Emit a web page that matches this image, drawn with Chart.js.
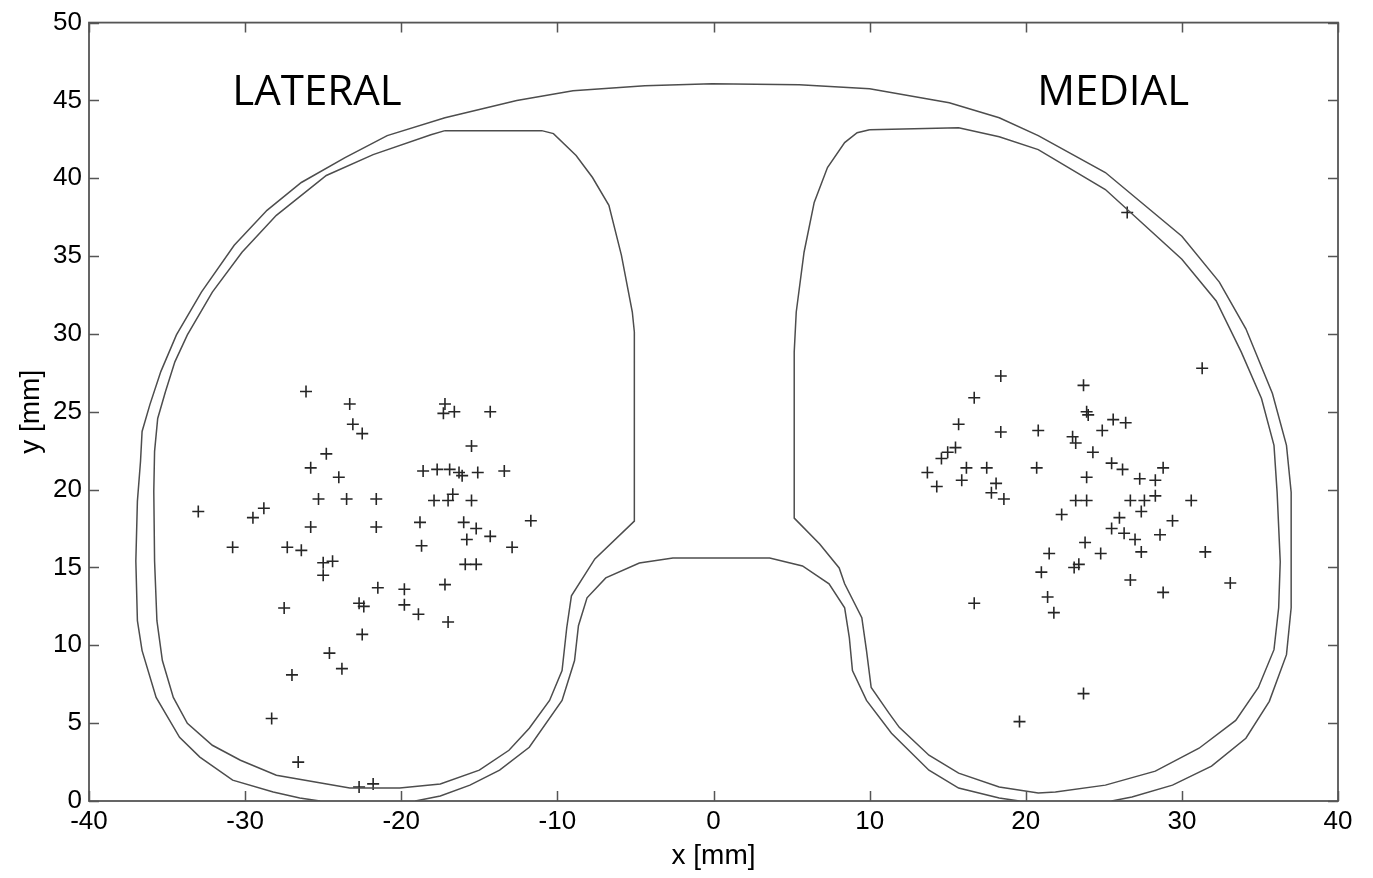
<!DOCTYPE html>
<html>
<head>
<meta charset="utf-8">
<script src="https://cdn.jsdelivr.net/npm/chart.js@4.4.1/dist/chart.umd.min.js"></script>
<style>
  html, body { margin: 0; padding: 0; background: #fff; }
  #wrap { width: 1373px; height: 878px; position: relative; }
</style>
</head>
<body>
<div id="wrap"><canvas id="c"></canvas></div>
<script>
// axis ticks
const xTicks = [-40, -30, -20, -10, 0, 10, 20, 30, 40];
const yTicks = [0, 5, 10, 15, 20, 25, 30, 35, 40, 45, 50];

// compartment labels
const regionNames = ['LATERAL', 'MEDIAL'];
const regionX = [-25.4, 25.6];
const regionY = [44.7, 44.7];

// measured points, lateral compartment
const lateralX = [-33.0, -30.8, -29.5, -28.8, -26.1, -23.3, -23.1, -22.5, -24.8, -25.8, -24.0, -25.3, -23.5, -21.6,
  -25.8, -21.6, -27.3, -26.4, -25.0, -24.4, -25.0, -27.5, -21.5, -22.7, -22.4, -19.8, -19.8, -18.9, -22.5, -24.6,
  -23.8, -27.0, -28.3, -26.6, -22.7, -21.8, -17.2, -17.3, -16.6, -14.3, -15.5, -18.6, -17.7, -16.9, -16.3, -16.1,
  -15.1, -13.4, -17.9, -17.0, -16.7, -15.5, -18.8, -16.0, -15.2, -15.8, -14.3, -11.7, -18.7, -12.9, -15.9, -15.2,
  -17.2, -17.0];
const lateralY = [18.6, 16.3, 18.2, 18.8, 26.3, 25.5, 24.2, 23.6, 22.3, 21.4, 20.8, 19.4, 19.4, 19.4,
  17.6, 17.6, 16.3, 16.1, 15.3, 15.4, 14.5, 12.4, 13.7, 12.7, 12.5, 13.6, 12.6, 12.0, 10.7, 9.5,
  8.5, 8.1, 5.3, 2.5, 0.9, 1.1, 25.5, 24.9, 25.0, 25.0, 22.8, 21.2, 21.3, 21.3, 21.1, 20.9,
  21.1, 21.2, 19.3, 19.3, 19.7, 19.3, 17.9, 17.9, 17.5, 16.8, 17.0, 18.0, 16.4, 16.3, 15.2, 15.2,
  13.9, 11.5];

// measured points, medial compartment
const medialX = [18.4, 16.7, 15.7, 18.4, 20.8, 23.0, 23.2, 15.5, 15.0, 14.6, 13.7, 14.3, 16.2, 15.9,
  17.5, 18.1, 17.8, 18.6, 20.7, 23.2, 22.3, 21.5, 21.0, 23.1, 23.4, 21.4, 21.8, 16.7, 31.3, 23.7,
  23.9, 24.0, 25.6, 26.4, 24.9, 24.3, 25.5, 26.2, 28.8, 23.9, 27.3, 28.3, 28.3, 23.9, 26.7, 27.6,
  30.6, 27.4, 26.0, 25.5, 26.3, 27.0, 29.4, 28.6, 23.8, 24.8, 27.4, 31.5, 26.7, 28.8, 33.1, 23.7,
  19.6, 26.5];
const medialY = [27.3, 25.9, 24.2, 23.7, 23.8, 23.4, 23.0, 22.7, 22.4, 22.0, 21.1, 20.2, 21.4, 20.6,
  21.4, 20.4, 19.8, 19.4, 21.4, 19.3, 18.4, 15.9, 14.7, 15.0, 15.2, 13.1, 12.1, 12.7, 27.8, 26.7,
  25.0, 24.8, 24.5, 24.3, 23.8, 22.4, 21.7, 21.3, 21.4, 20.8, 20.7, 20.6, 19.6, 19.3, 19.3, 19.3,
  19.3, 18.6, 18.2, 17.5, 17.2, 16.8, 18.0, 17.1, 16.6, 15.9, 16.0, 16.0, 14.2, 13.4, 14.0, 6.9,
  5.1, 37.8];

// outer rim of the plateau (left bottom, over the top, right bottom)
const outerX = [-25.2, -26.5, -28.2, -30.8, -32.9, -34.2, -35.7, -36.6, -36.9, -37.0, -36.9, -36.7, -36.6, -36.1,
  -35.4, -34.4, -32.8, -30.7, -28.6, -26.4, -23.6, -20.9, -17.2, -12.6, -9.0, -4.4, -0.1, 5.5, 10.0, 15.1,
  18.3, 20.8, 25.1, 30.0, 32.4, 34.1, 35.8, 36.7, 37.0, 37.0, 37.0, 36.7, 35.6, 34.1, 31.9, 29.4, 26.8, 25.5];
const outerY = [0.0, 0.19, 0.58, 1.34, 2.82, 4.09, 6.65, 9.66, 11.58, 15.42, 19.26, 21.82, 23.74, 25.46,
  27.58, 29.94, 32.69, 35.70, 37.94, 39.73, 41.33, 42.74, 43.89, 44.99, 45.62, 45.94, 46.07, 46.00, 45.75, 44.85,
  43.89, 42.74, 40.37, 36.28, 33.33, 30.33, 26.17, 22.84, 19.83, 15.36, 12.41, 9.40, 6.40, 4.03, 2.24, 1.02, 0.26, 0.0];

// outer rim around the intercondylar notch
const notchX = [-19.1, -17.5, -15.6, -13.7, -11.8, -9.7, -8.9, -8.65, -8.1, -6.9, -4.75, -2.6, 3.6, 5.7,
  7.4, 8.4, 8.7, 8.9, 9.8, 11.4, 13.8, 15.7, 18.3, 19.6];
const notchY = [0.0, 0.32, 1.02, 1.98, 3.45, 6.46, 9.02, 11.26, 13.05, 14.33, 15.29, 15.61, 15.61, 15.10,
  13.95, 12.41, 10.49, 8.38, 6.46, 4.35, 1.98, 0.83, 0.19, 0.0];

// lateral compartment rim (closed)
const latRimX = [-17.2, -11.0, -10.25, -8.8, -7.75, -6.7, -5.9, -5.2, -5.07, -5.07, -7.6, -9.1, -9.4, -9.7,
  -10.5, -11.8, -13.1, -15.0, -17.5, -20.1, -23.3, -28.0, -30.3, -32.1, -33.7, -34.6, -35.3, -35.65, -35.8, -35.85,
  -35.8, -35.6, -35.1, -34.5, -33.7, -32.1, -30.2, -28.0, -24.8, -21.8, -18.1, -17.2];
const latRimY = [43.06, 43.06, 42.87, 41.46, 40.05, 38.26, 35.06, 31.41, 30.13, 17.98, 15.55, 13.18, 11.13, 8.38,
  6.46, 4.67, 3.26, 1.98, 1.09, 0.83, 0.83, 1.66, 2.62, 3.58, 4.99, 6.65, 9.02, 11.58, 15.42, 19.90,
  22.46, 24.57, 26.30, 28.21, 29.94, 32.69, 35.25, 37.62, 40.18, 41.52, 42.80, 43.06];

// medial compartment rim (closed)
const medRimX = [10.0, 15.7, 18.3, 20.8, 25.1, 30.0, 32.2, 33.8, 35.1, 35.9, 36.1, 36.3, 36.2, 35.9,
  34.9, 33.45, 31.1, 28.3, 25.1, 21.9, 20.8, 18.3, 15.7, 13.8, 11.9, 11.25, 10.1, 9.8, 9.5, 8.4,
  8.05, 6.8, 5.17, 5.17, 5.3, 5.8, 6.45, 7.3, 8.4, 9.2, 10.0];
const medRimY = [43.12, 43.25, 42.67, 41.84, 39.28, 34.80, 32.12, 28.85, 25.85, 22.84, 19.83, 15.36, 12.41, 9.72,
  7.29, 5.18, 3.39, 1.92, 1.02, 0.58, 0.51, 0.90, 1.79, 2.94, 4.73, 5.63, 7.29, 9.66, 11.77, 13.95,
  14.97, 16.51, 18.17, 28.85, 31.41, 35.25, 38.45, 40.69, 42.29, 42.93, 43.12];

const pts = (xs, ys) => xs.map((x, i) => ({ x: x, y: ys[i] }));

const lineColor = '#4d4d4d';
const markColor = '#262626';
const tickFont = { family: '"Liberation Sans", Arial, sans-serif', size: 26 };
const titleFont = { family: '"Liberation Sans", Arial, sans-serif', size: 28 };

function rim(xs, ys) {
  return {
    type: 'scatter', data: pts(xs, ys), showLine: true, fill: false,
    borderColor: lineColor, borderWidth: 1.5, pointRadius: 0, tension: 0
  };
}
function marks(xs, ys) {
  return {
    type: 'scatter', data: pts(xs, ys), showLine: false,
    pointStyle: 'cross', pointRadius: 6, pointBorderWidth: 1.6,
    borderColor: markColor, backgroundColor: markColor
  };
}

// MATLAB-like box with inward ticks, plus compartment names
const boxPlugin = {
  id: 'box',
  afterDatasetsDraw(chart) {
    const { ctx, chartArea: a, scales: { x, y } } = chart;
    ctx.save();
    ctx.strokeStyle = '#555';
    ctx.lineWidth = 1.8;
    ctx.strokeRect(a.left, a.top, a.right - a.left, a.bottom - a.top);
    ctx.lineWidth = 1.5;
    ctx.beginPath();
    xTicks.forEach(v => {
      const p = Math.round(x.getPixelForValue(v)) + 0.5;
      ctx.moveTo(p, a.bottom); ctx.lineTo(p, a.bottom - 10);
      ctx.moveTo(p, a.top); ctx.lineTo(p, a.top + 10);
    });
    yTicks.forEach(v => {
      const p = Math.round(y.getPixelForValue(v)) + 0.5;
      ctx.moveTo(a.left, p); ctx.lineTo(a.left + 10, p);
      ctx.moveTo(a.right, p); ctx.lineTo(a.right - 10, p);
    });
    ctx.stroke();
    ctx.fillStyle = '#000';
    ctx.font = '42px "Open Sans", sans-serif';
    ctx.textAlign = 'center';
    ctx.textBaseline = 'alphabetic';
    regionNames.forEach((n, i) => {
      ctx.fillText(n, x.getPixelForValue(regionX[i]), y.getPixelForValue(regionY[i]));
    });
    ctx.restore();
  }
};

new Chart(document.getElementById('c'), {
  type: 'scatter',
  data: {
    datasets: [
      rim(outerX, outerY),
      rim(notchX, notchY),
      rim(latRimX, latRimY),
      rim(medRimX, medRimY),
      marks(lateralX, lateralY),
      marks(medialX, medialY)
    ]
  },
  options: {
    responsive: true,
    maintainAspectRatio: false,
    animation: false,
    events: [],
    layout: { padding: { top: 20, right: 35, left: 0, bottom: 0 } },
    plugins: { legend: { display: false }, tooltip: { enabled: false } },
    scales: {
      x: {
        type: 'linear', min: -40, max: 40,
        afterBuildTicks: s => { s.ticks = xTicks.map(v => ({ value: v })); },
        afterFit: s => { s.height = 77; },
        grid: { display: false, drawTicks: false },
        border: { display: false },
        ticks: { color: '#000', font: tickFont, padding: 5, maxRotation: 0, autoSkip: false },
        title: { display: true, text: 'x [mm]', color: '#000', font: titleFont, padding: { top: 0, bottom: 5 } }
      },
      y: {
        type: 'linear', min: 0, max: 50,
        afterBuildTicks: s => { s.ticks = yTicks.map(v => ({ value: v })); },
        afterFit: s => { s.width = 89; },
        grid: { display: false, drawTicks: false },
        border: { display: false },
        ticks: { color: '#000', font: tickFont, padding: 7, autoSkip: false },
        title: { display: true, text: 'y [mm]', color: '#000', font: titleFont, padding: { top: 14, bottom: 0 } }
      }
    }
  },
  plugins: [boxPlugin]
});
</script>
</body>
</html>
